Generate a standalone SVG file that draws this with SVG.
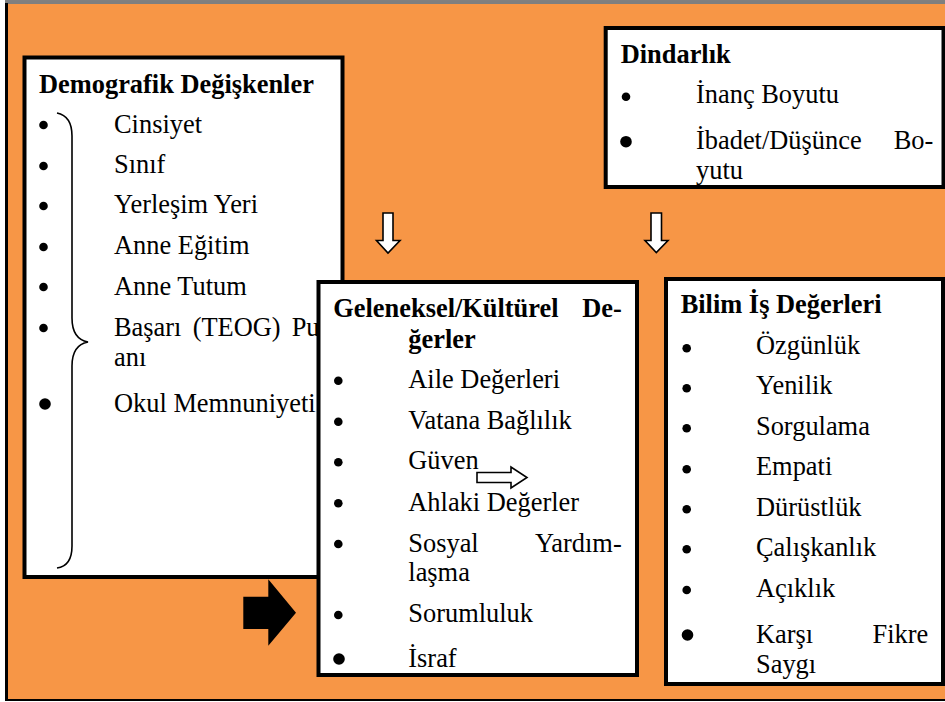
<svg xmlns="http://www.w3.org/2000/svg" width="945" height="702" viewBox="0 0 945 702">
<style>
  .box { fill: #ffffff; stroke: #000000; stroke-width: 4; }
  .t { font-family: 'Liberation Serif', 'Times New Roman', Tinos, 'DejaVu Serif', serif; font-size: 26.4px; fill: #000000; }
  .b { font-weight: bold; }
  .dot { fill: #000000; }
  .hollow { fill: #ffffff; stroke: #000000; stroke-width: 1.6; stroke-linejoin: miter; }
</style>
<rect x="0" y="0" width="945" height="702" fill="#ffffff"/>
<g id="frame">
  <rect x="6" y="4" width="939" height="695" fill="#F79646"/>
  <line x1="5" y1="1" x2="945" y2="1" stroke="#000" stroke-width="1"/>
  <line x1="5" y1="3" x2="945" y2="3" stroke="#000" stroke-width="1.2"/>
  <line x1="6.5" y1="3" x2="6.5" y2="701" stroke="#000" stroke-width="3"/>
  <line x1="5" y1="700" x2="945" y2="700" stroke="#000" stroke-width="2"/>
</g>

<g id="demografik">
  <rect class="box" x="24.5" y="57.5" width="318" height="519.5" stroke-width="3.5"/>
  <text class="t b" x="39" y="92.7">Demografik Değişkenler</text>
  <path d="M57,113 Q72,116 72,136 L72,318 Q72,339 88,342 Q72,345 72,366 L72,546 Q72,566 57,568" fill="none" stroke="#000" stroke-width="1.6"/>
  <circle class="dot" cx="43.5" cy="125" r="4.3"/>
  <circle class="dot" cx="43.5" cy="166" r="4.3"/>
  <circle class="dot" cx="43.5" cy="206" r="4.3"/>
  <circle class="dot" cx="43.5" cy="247" r="4.3"/>
  <circle class="dot" cx="43.5" cy="287" r="4.3"/>
  <circle class="dot" cx="43.5" cy="328" r="4.3"/>
  <circle class="dot" cx="45" cy="404" r="5.8"/>
  <text class="t" x="114" y="132.7">Cinsiyet</text>
  <text class="t" x="114" y="173.3">Sınıf</text>
  <text class="t" x="114" y="213.3">Yerleşim Yeri</text>
  <text class="t" x="114" y="254.3">Anne Eğitim</text>
  <text class="t" x="114" y="295">Anne Tutum</text>
  <text class="t" x="114" y="335.7">Başarı</text>
  <text class="t" x="192.7" y="335.7">(TEOG)</text>
  <text class="t" x="291.7" y="335.7">Pu</text>
  <text class="t" x="114" y="365.7">anı</text>
  <text class="t" x="114" y="411.7">Okul Memnuniyeti</text>
</g>

<g id="dindarlik">
  <rect class="box" x="605.7" y="28" width="337.8" height="159"/>
  <text class="t b" x="620.7" y="62.7">Dindarlık</text>
  <circle class="dot" cx="626" cy="96.7" r="4.3"/>
  <circle class="dot" cx="626" cy="141.7" r="5.8"/>
  <text class="t" x="696" y="102.7">İnanç Boyutu</text>
  <text class="t" x="696" y="149">İbadet/Düşünce</text>
  <text class="t" x="933.3" y="149" text-anchor="end">Bo-</text>
  <text class="t" x="696" y="179">yutu</text>
</g>

<g id="geleneksel">
  <rect class="box" x="318.5" y="282" width="318.5" height="393"/>
  <text class="t b" x="333.3" y="317.3">Geleneksel/Kültürel</text>
  <text class="t b" x="621.7" y="317.3" text-anchor="end">De-</text>
  <text class="t b" x="408.3" y="348.3">ğerler</text>
  <circle class="dot" cx="338.3" cy="380.7" r="4.3"/>
  <circle class="dot" cx="338.3" cy="421.7" r="4.3"/>
  <circle class="dot" cx="338.3" cy="462.3" r="4.3"/>
  <circle class="dot" cx="338.3" cy="503.3" r="4.3"/>
  <circle class="dot" cx="338.3" cy="544" r="4.3"/>
  <circle class="dot" cx="338.3" cy="615" r="4.3"/>
  <circle class="dot" cx="339" cy="659" r="5.8"/>
  <text class="t" x="408.3" y="388.3">Aile Değerleri</text>
  <text class="t" x="408.3" y="429.3">Vatana Bağlılık</text>
  <text class="t" x="408.3" y="469.3">Güven</text>
  <text class="t" x="408.3" y="510.7">Ahlaki Değerler</text>
  <text class="t" x="408.3" y="551.7">Sosyal</text>
  <text class="t" x="621.7" y="551.7" text-anchor="end">Yardım-</text>
  <text class="t" x="408.3" y="580.7">laşma</text>
  <text class="t" x="408.3" y="622.3">Sorumluluk</text>
  <text class="t" x="408.3" y="667.3">İsraf</text>
</g>

<g id="bilim">
  <rect class="box" x="666" y="279" width="277" height="405"/>
  <text class="t b" x="680.7" y="313.3">Bilim İş Değerleri</text>
  <circle class="dot" cx="686.7" cy="348.3" r="4.3"/>
  <circle class="dot" cx="686.7" cy="388.3" r="4.3"/>
  <circle class="dot" cx="686.7" cy="428.3" r="4.3"/>
  <circle class="dot" cx="686.7" cy="469.3" r="4.3"/>
  <circle class="dot" cx="686.7" cy="509.3" r="4.3"/>
  <circle class="dot" cx="686.7" cy="549.3" r="4.3"/>
  <circle class="dot" cx="686.7" cy="590" r="4.3"/>
  <circle class="dot" cx="687.5" cy="635" r="5.8"/>
  <text class="t" x="756" y="354.3">Özgünlük</text>
  <text class="t" x="756" y="394.3">Yenilik</text>
  <text class="t" x="756" y="435">Sorgulama</text>
  <text class="t" x="756" y="475">Empati</text>
  <text class="t" x="756" y="516">Dürüstlük</text>
  <text class="t" x="756" y="556">Çalışkanlık</text>
  <text class="t" x="756" y="596.7">Açıklık</text>
  <text class="t" x="756" y="643.3">Karşı</text>
  <text class="t" x="928.3" y="643.3" text-anchor="end">Fikre</text>
  <text class="t" x="756" y="673.3">Saygı</text>
</g>

<g id="connectors">
  <polygon class="hollow" points="383,213 393,213 393,240.5 400,240.5 388,253 376.5,240.5 383,240.5"/>
  <polygon class="hollow" points="651,213 661.5,213 661.5,240.5 668,240.5 656.3,252.5 645,240.5 651,240.5"/>
  <polygon class="hollow" points="477,472.5 511,472.5 511,467 527,477.5 511,488 511,482.5 477,482.5"/>
  <polygon fill="#000" points="243.3,596.7 268.3,596.7 268.3,579.3 296,612.7 268.3,645.7 268.3,629 243.3,629"/>
</g>
</svg>
